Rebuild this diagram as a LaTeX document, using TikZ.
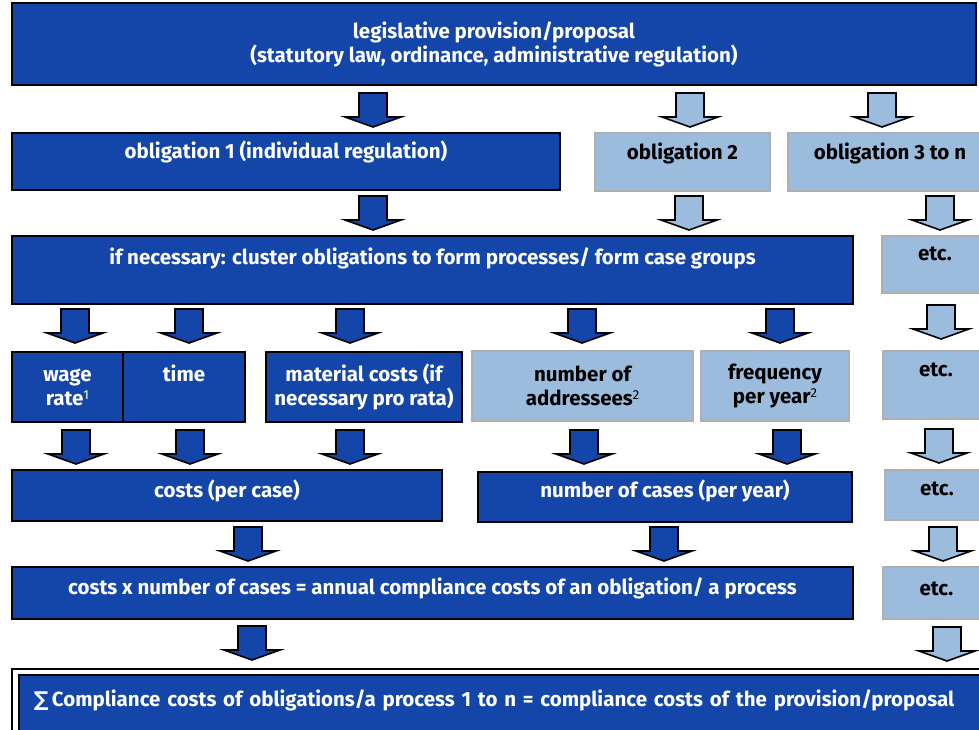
\documentclass[tikz,border=0pt]{standalone}
\usepackage{fontspec}
\setmainfont{Fira Sans}
\newfontfamily\sumfont{DejaVu Sans}
\usepackage{tikz}

\definecolor{darkblue}{RGB}{20,69,168}
\definecolor{lightblue}{RGB}{155,188,221}
\definecolor{framegray}{RGB}{175,175,175}

\tikzset{
  darkbox/.style={draw=black, line width=1.6pt, fill=darkblue, text=white, align=center, inner sep=0pt, font=\fontsize{20.5}{24}\selectfont\bfseries},
  lightbox/.style={draw=framegray, line width=1.6pt, fill=lightblue, text=black, align=center, inner sep=0pt, font=\fontsize{20.5}{24}\selectfont\bfseries},
  lifted/.style={text height=15pt, text depth=#1},
  darkarrow/.style={fill=darkblue, draw=black, line width=1.6pt},
  lightarrow/.style={fill=lightblue, draw=black, line width=1.6pt},
  blockarrow/.pic={\path[pic actions] (-14,0) -- (14,0) -- (14,24) -- (28,24) -- (0,34) -- (-28,24) -- (-14,24) -- cycle;}
}
\newcommand{\supnum}[1]{\raisebox{6pt}{\fontsize{13}{13}\selectfont\mdseries #1}}

\begin{document}
\begin{tikzpicture}[x=1pt,y=-1pt]
\useasboundingbox (0,0) rectangle (979,729);

% provision
\node[darkbox, minimum width=964pt, minimum height=82pt] (law) at (494,44) {legislative provision/proposal\\(statutory law, ordinance, administrative regulation)};

\pic[darkarrow] at (373,93) {blockarrow};
\pic[lightarrow] at (690,93) {blockarrow};
\pic[lightarrow] at (882,93) {blockarrow};

% obligations
\node[darkbox, minimum width=548pt, minimum height=57pt, lifted=21pt] (obl1) at (286,161.5) {obligation 1 (individual regulation)};
\node[lightbox, minimum width=175pt, minimum height=58pt, lifted=21pt] (obl2) at (682.5,162) {obligation 2};
\node[lightbox, minimum width=204pt, minimum height=58pt, lifted=21pt] (obl3) at (890,162) {obligation 3 to n};

\pic[darkarrow] at (373,196) {blockarrow};
\pic[lightarrow] at (689,196) {blockarrow};
\pic[lightarrow] at (940,196) {blockarrow};

% cluster
\node[darkbox, minimum width=841pt, minimum height=68pt, lifted=26pt] (cluster) at (432.5,270) {if necessary: cluster obligations to form processes/ form case groups};
\node[lightbox, minimum width=106pt, minimum height=57pt, lifted=23pt] (etc1) at (935,264.5) {etc.};

\foreach \ax in {75,189,350,582,780}
  \pic[darkarrow] at (\ax,309) {blockarrow};
\pic[lightarrow] at (941,305) {blockarrow};

% cost factors
\node[darkbox, minimum width=111pt, minimum height=70pt] (wage) at (67.5,387) {wage\\rate\supnum{1}};
\node[darkbox, minimum width=122pt, minimum height=70pt, lifted=26pt] (time) at (184,387) {time};
\node[darkbox, minimum width=196pt, minimum height=70pt] (material) at (364,387) {material costs (if\\necessary pro rata)};
\node[lightbox, minimum width=221pt, minimum height=70pt] (addressees) at (582.5,386) {number of\\addressees\supnum{2}};
\node[lightbox, minimum width=148pt, minimum height=70pt] (frequency) at (775,386) {frequency\\per year\supnum{2}};
\node[lightbox, minimum width=106pt, minimum height=68pt, lifted=32pt] (etc2) at (936,385) {etc.};

\foreach \ax in {76,190,350,584,787}
  \pic[darkarrow] at (\ax,430) {blockarrow};
\pic[lightarrow] at (939,429) {blockarrow};

% costs and cases
\node[darkbox, minimum width=430pt, minimum height=51pt, lifted=11pt] (costs) at (227,495.5) {costs (per case)};
\node[darkbox, minimum width=374pt, minimum height=50pt, lifted=14pt] (cases) at (665,497) {number of cases (per year)};
\node[lightbox, minimum width=105pt, minimum height=50pt, lifted=14pt] (etc3) at (937,495) {etc.};

\pic[darkarrow] at (248,527) {blockarrow};
\pic[darkarrow] at (664,527) {blockarrow};
\pic[lightarrow] at (943,527) {blockarrow};

% annual costs
\node[darkbox, minimum width=841pt, minimum height=52pt, lifted=12pt] (annual) at (432.5,593) {costs x number of cases = annual compliance costs of an obligation/ a process};
\node[lightbox, minimum width=107pt, minimum height=52pt, lifted=10pt] (etc4) at (936.5,593) {etc.};

\pic[darkarrow] at (252,626) {blockarrow};
\pic[lightarrow] at (947,627) {blockarrow};

% total
\draw[line width=1.2pt] (12,669) rectangle (1000,780);
\node[darkbox, anchor=north west, minimum width=980pt, minimum height=70pt, text width=950pt, align=left, inner xsep=12pt, lifted=22pt] (total) at (18,674) {{\sumfont ∑}\,Compliance costs of obligations/a process 1 to n = compliance costs of the provision/proposal};

\end{tikzpicture}
\end{document}
